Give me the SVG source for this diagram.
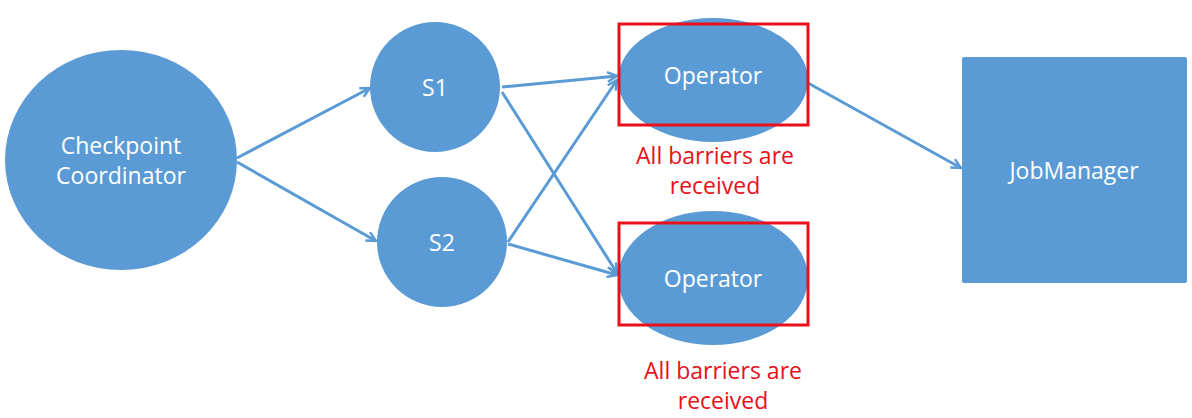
<svg xmlns="http://www.w3.org/2000/svg" width="1192" height="418" viewBox="0 0 1192 418">
<style>
.node{fill:#5b9bd5;}
.lbl{font-family:"Open Sans","Liberation Sans",sans-serif;font-size:23px;fill:#ffffff;text-anchor:middle;dominant-baseline:central;}
.red{font-family:"Open Sans","Liberation Sans",sans-serif;font-size:23px;fill:#e8101a;text-anchor:middle;dominant-baseline:central;}
.box{fill:none;stroke:#e8101a;stroke-width:3;}
.edge{stroke:#5b9bd5;stroke-width:3;fill:none;marker-end:url(#arr);}
</style>
<defs>
<marker id="arr" viewBox="0 0 10 10" refX="9" refY="5" markerWidth="4" markerHeight="4" orient="auto" markerUnits="strokeWidth">
<path d="M1,1 L9,5 L1,9" fill="none" stroke="#5b9bd5" stroke-width="2"/>
</marker>
</defs>
<rect width="1192" height="418" fill="#ffffff"/>
<g id="connectors">
<line class="edge" x1="237" y1="158" x2="370" y2="88"/>
<line class="edge" x1="237" y1="162" x2="376" y2="241"/>
<line class="edge" x1="502" y1="87" x2="617" y2="76"/>
<line class="edge" x1="502" y1="92" x2="617" y2="273"/>
<line class="edge" x1="508" y1="242" x2="617" y2="80"/>
<line class="edge" x1="508" y1="244" x2="617" y2="275"/>
<line class="edge" x1="808" y1="83" x2="961" y2="168"/>
</g>
<g id="checkpoint-coordinator">
<ellipse class="node" cx="121" cy="160" rx="116" ry="110"/>
<text class="lbl" x="121" y="145">Checkpoint</text>
<text class="lbl" x="121" y="175">Coordinator</text>
</g>
<g id="s1">
<circle class="node" cx="435" cy="87" r="65"/>
<text class="lbl" x="435" y="87">S1</text>
</g>
<g id="s2">
<circle class="node" cx="442" cy="242" r="65"/>
<text class="lbl" x="442" y="242">S2</text>
</g>
<g id="operator1">
<ellipse class="node" cx="713" cy="80" rx="95" ry="62"/>
<rect class="box" x="619" y="24" width="189" height="101"/>
<text class="lbl" x="713" y="75">Operator</text>
<text class="red" x="715" y="155">All barriers are</text>
<text class="red" x="715" y="185">received</text>
</g>
<g id="operator2">
<ellipse class="node" cx="713" cy="278" rx="95" ry="67"/>
<rect class="box" x="619" y="223" width="189" height="102"/>
<text class="lbl" x="713" y="278">Operator</text>
<text class="red" x="723" y="370">All barriers are</text>
<text class="red" x="723" y="400">received</text>
</g>
<g id="jobmanager">
<rect class="node" x="962" y="57" width="225" height="226" rx="2"/>
<text class="lbl" x="1074" y="170">JobManager</text>
</g>
</svg>
